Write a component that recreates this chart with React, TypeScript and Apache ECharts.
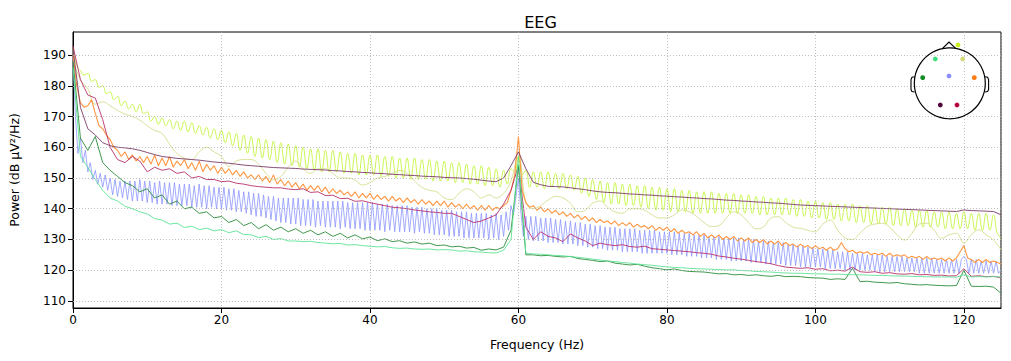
import React, { useEffect, useRef } from "react";
import * as echarts from "echarts";

// Frequency ticks and power ticks
const X_TICKS = [0, 20, 40, 60, 80, 100, 120];
const Y_TICKS = [110, 120, 130, 140, 150, 160, 170, 180, 190];

// Frequency resolution of each hand-read series (Hz between values)
const STEP_1 = 1;
const STEP_HALF = 0.5;
const STEP_THIRD = 1 / 3;

// Lime channel (0.5 Hz spacing, 0..125 Hz)
const limeVals = [
  192, 186.5, 185, 183.5, 184, 181.5, 182, 179.5, 180, 177.5,
  178, 175.5, 176.5, 173.5, 175, 172.5, 174, 171.5, 174, 171,
  171.5, 168.5, 170, 167.5, 169.5, 167, 169, 166, 168.5, 165.5,
  168.5, 165, 168, 164.5, 167, 164, 166.5, 163, 166, 162.5,
  165.5, 161.5, 165, 160.5, 164.5, 159, 164, 158, 163.5, 157,
  163, 156.5, 162.5, 156, 162, 155, 161.5, 154.5, 161, 154,
  160.5, 153.5, 160, 153, 159.5, 152.5, 159.5, 152, 159, 152,
  159, 152, 158.5, 151.5, 158, 151.5, 158, 151, 157.5, 151,
  157.5, 151, 157.5, 150.5, 157, 150.5, 157, 150, 156.5, 150,
  156.5, 149.5, 156.5, 149.5, 156, 149.5, 156, 149, 155.5, 149,
  155.5, 149, 155, 148.5, 155, 148.5, 154.5, 148, 154, 148,
  154, 147.5, 153.5, 147.5, 153, 147, 152.5, 148, 153, 152,
  157, 151, 152.5, 147, 152, 147, 152, 146.5, 152, 147,
  151.5, 146.5, 151.5, 146.5, 151, 146, 150.5, 145, 150, 144,
  149.5, 143, 149, 142, 148.5, 141.5, 148.5, 141.5, 148, 141,
  148, 141, 147.5, 140.5, 147.5, 140, 147, 139.5, 147, 139.5,
  146.5, 139, 146.5, 139, 146, 139, 146, 138.5, 145.5, 138.5,
  145.5, 138.5, 145.5, 138.5, 145, 138.5, 145, 138.5, 145, 138.5,
  144.5, 138.5, 144.5, 138.5, 144, 138, 144, 138, 143.5, 138,
  143.5, 138, 143.5, 138, 143, 137.5, 143, 137.5, 142.5, 137,
  142.5, 137, 142, 136.5, 142, 136.5, 141.5, 136, 141.5, 136,
  141.5, 135.5, 141, 135.5, 141, 135, 140.5, 135, 140.5, 135,
  140.5, 134.5, 140, 134.5, 140, 134.5, 139.5, 134, 139.5, 134,
  139.5, 134, 139, 134, 139, 133.5, 139, 133.5, 138.5, 133.5,
  139, 133.5, 138.5, 133, 138.5, 133, 138.5, 133, 138, 132,
  130.5,
];

// Pale yellow-green channel (1 Hz spacing)
const paleVals = [
  188, 182, 179, 174, 174.8, 173.5, 172, 170.8, 170, 168.8,
  167, 165.5, 164.5, 161, 158, 156.5, 156, 158.5, 160, 158.5,
  157, 153.7, 155.5, 156, 156, 154.5, 151.5, 149.5, 150.5, 153.5,
  155.5, 153, 151.5, 153, 153, 151.5, 150, 150, 149.3, 147.7,
  148.5, 150, 150.5, 151.5, 152.5, 151.5, 149, 147, 146, 145.5,
  143.5, 143, 145, 146.5, 145.5, 143.5, 144.5, 143.5, 145, 149,
  158, 142, 140, 141, 142.8, 144, 143.5, 141.8, 139, 139.5,
  141.8, 142.5, 140.5, 139, 138.5, 140, 140, 139.5, 138, 137,
  137, 138, 139.6, 139, 137.5, 135.5, 134.2, 134.5, 137, 139,
  138, 135.5, 133.5, 134, 137, 137.4, 135.5, 134, 133.6, 133,
  132.5, 135, 136.3, 133, 130.5, 130, 132, 134.2, 135, 135.3,
  134, 131.5, 129.8, 132, 135, 135.3, 133, 130.4, 131.5, 132,
  128.8, 131.5, 133.1, 131.5, 129.8, 126.6,
];

// Blue channel (1/3 Hz spacing)
const blueVals = [
  190, 170, 158, 163, 155, 159, 152, 155, 149.5, 152.5, 148, 151.5, 147, 151, 146,
  150, 144.5, 149.5, 144, 149, 143.5, 149, 143, 149, 142.5, 149, 142.5, 149.5, 142.5, 149,
  142, 149, 142, 148.5, 141.5, 149, 141.5, 148.5, 141.5, 148.5, 141, 148.5, 141, 148, 141,
  148, 141, 148, 140.5, 147.5, 140.5, 148, 140.5, 147.5, 140, 147.5, 140.5, 147, 140, 147,
  140, 147, 139.5, 146.5, 139.5, 146.5, 139, 146, 139, 145.5, 138.5, 145.5, 138, 145, 137.5,
  145, 137.5, 144.5, 137, 144, 136.5, 144, 136, 143.5, 135.5, 143.5, 135.5, 143.5, 135, 143.5,
  135, 143.5, 134.5, 143, 134.5, 143, 134.5, 143, 134, 142.5, 134.5, 142.5, 134, 142.5, 134,
  142.5, 134, 142.5, 133.5, 142.5, 134, 142, 133.5, 142, 133.5, 142, 133.5, 142, 133, 142,
  133, 142, 133, 141.5, 133, 141.5, 132.5, 141.5, 133, 141, 132.5, 141, 132.5, 141, 132.5,
  141, 132.5, 140.5, 132, 140.5, 132.5, 140.5, 132, 140, 132, 140, 131.5, 140, 131.5, 139.5,
  131.5, 139.5, 131, 139.5, 131, 139, 131, 139, 130.5, 139, 130.5, 138.5, 130.5, 138.5, 130.5,
  138.5, 130.5, 138.5, 130, 138, 130.5, 138.5, 130, 138, 131, 139, 133, 141, 138, 144,
  150, 139, 131, 137.5, 130, 137.5, 129.5, 137.5, 129.5, 137, 129.5, 137, 129, 137, 129,
  136.5, 129, 136.5, 128.5, 136, 128.5, 136, 128.5, 135.5, 128, 135.5, 128, 135, 127.5, 135,
  127.5, 134.5, 127, 134.5, 127, 134, 126.5, 134, 126.5, 134, 126.5, 133.5, 126, 133.5, 126,
  133.5, 126, 133.5, 126, 133, 125.5, 133, 125.5, 133, 125.5, 133, 125.5, 132.5, 125.5, 132.5,
  125.5, 132.5, 125, 132.5, 125, 132, 125, 132, 124.5, 132, 124.5, 131.5, 124.5, 131.5, 124,
  131.5, 124, 131, 124, 131, 123.5, 131, 123.5, 130.5, 123.5, 130.5, 123, 130.5, 123, 130.5,
  123, 130, 123, 130, 122.5, 130, 122.5, 129.5, 122.5, 129.5, 122, 129.5, 122, 129, 122,
  129, 122, 129, 121.5, 128.5, 121.5, 128.5, 121.5, 128, 121, 128, 121, 127.5, 121, 127.5,
  121, 127, 121, 127, 120.5, 126.5, 120.5, 126.5, 120.5, 126, 120.5, 126, 120, 126, 120,
  125.5, 120, 125.5, 120, 125.5, 120, 125, 120, 125, 119.5, 125, 119.5, 125, 119.5, 124.5,
  119.5, 124.5, 119.5, 124.5, 119.5, 124.5, 119.5, 124, 119.5, 124, 119.5, 124, 119, 124, 119,
  124, 119, 124, 119, 123.5, 119, 123.5, 119, 123.5, 119, 123.5, 119, 123.5, 119, 123.5,
  124.5, 123.5, 119, 123.5, 119, 123.5, 119, 123, 119, 123, 119, 123, 119, 123, 119,
  120,
];

// Orange channel (0.5 Hz spacing)
const orangeVals = [
  190, 180, 174.5, 173, 173.5, 175.5, 171, 167, 166, 164,
  162.5, 160, 159, 157, 158.5, 156, 157.5, 155.5, 157, 155,
  157, 154.5, 157.5, 154, 156.5, 154, 157, 153.5, 155.5, 154,
  156, 153, 155, 152.5, 155.5, 152, 154.5, 152.5, 154, 151.5,
  153.5, 151.5, 153, 151, 152.5, 150.5, 152, 150, 151, 149.5,
  151, 149, 150.5, 148.5, 151, 148, 149.5, 147.5, 149, 147,
  148.5, 146.5, 148, 146, 147.5, 146, 147.5, 145.5, 147, 145,
  146.5, 145, 146, 144.5, 145.5, 144, 145.5, 143.5, 145, 143.5,
  145, 143, 144.5, 143, 144, 142.5, 144, 142.5, 143.5, 142,
  143.5, 142, 143, 141.5, 143, 141.5, 142.5, 141, 142.5, 141,
  142.5, 140.5, 142, 140.5, 141.5, 140, 141.5, 140, 141, 139.5,
  141, 139.5, 141, 139.5, 140.5, 140, 141, 142, 146, 151,
  163.5, 146, 142, 140.5, 141, 139.5, 140.5, 139, 140, 138.5,
  139.5, 138, 139, 137.5, 138.5, 137, 138, 136.5, 137.5, 136,
  137, 135.5, 136.5, 135.5, 136, 135, 136, 134.5, 135.5, 134.5,
  135.5, 134, 135, 134, 134.5, 133.5, 134.5, 133, 134, 133,
  134, 132.5, 133.5, 132, 133, 132, 132.5, 131.5, 132.5, 131,
  132, 130.5, 131.5, 130.5, 131.5, 130, 131, 130, 131, 129.5,
  130.5, 129.5, 130.5, 129, 130, 129, 130, 128.5, 129.5, 128.5,
  129.5, 128, 129, 128, 128.5, 127.5, 128.5, 127.5, 128, 127,
  128, 127, 127.5, 126.5, 127.5, 126.5, 127, 129, 127, 126,
  126.5, 125.5, 126, 125.5, 126, 125, 125.5, 125, 125.5, 124.5,
  125.5, 124.5, 125, 124.5, 125, 124, 124.5, 124, 124.5, 123.5,
  124.5, 123.5, 124, 123.5, 124, 123, 124, 123, 124, 126,
  128, 124, 123.5, 122.5, 123.5, 122.5, 123.5, 122.5, 123, 122.5,
  122,
];

// Crimson channel (1 Hz spacing)
const crimsonVals = [
  193, 182, 177, 176, 169, 160, 156, 155, 157, 155.5,
  152, 153.5, 152.5, 153, 151.5, 152, 150, 150.5, 149.5, 149.5,
  148.8, 149, 148.3, 148, 147.5, 147.2, 147, 146.8, 146.8, 146.4,
  146.2, 146.5, 145.3, 145.5, 144.3, 144.4, 143.3, 143.4, 142.4, 142.6,
  142, 141.5, 141, 140.5, 140.3, 140, 139.6, 139.3, 139, 138.8,
  138.5, 138.5, 137.5, 136.5, 135.5, 136, 137, 138, 141.5, 146,
  154, 134, 130, 132.5, 131, 130.5, 129.3, 131.8, 130.5, 129.5,
  128, 128.8, 128.3, 128, 128.3, 127.7, 127.5, 127.8, 127, 126.8,
  126.6, 126.4, 126.2, 126, 125.7, 125.5, 125.2, 124.6, 124.3, 123.9,
  123.6, 123.2, 122.8, 122.5, 122.1, 121.5, 121, 120.8, 120.6, 120.8,
  120.3, 120.5, 119.8, 120, 119.7, 121, 119.5, 119.3, 119.5, 119,
  119.2, 118.8, 118.7, 118.9, 118.5, 118.6, 118.3, 118.4, 118.1, 118.2,
  120.5, 118, 118.2, 117.9, 118, 117.5,
];

// Dark green channel (1 Hz spacing)
const darkGreenVals = [
  188, 163, 159, 163.5, 155, 152.5, 150.5, 148.5, 147.5, 145.5,
  146.5, 143.5, 144.5, 141.5, 142.5, 140, 140.5, 138.5, 139, 137,
  137.5, 135.5, 136.5, 134.5, 135.5, 133.5, 134.8, 133, 134, 132.5,
  133.5, 132, 133, 131.5, 132.5, 131, 132, 130.5, 131.5, 130.2,
  130.8, 129.6, 130.2, 129.3, 129.6, 128.8, 129.2, 128.5, 128.8, 128,
  128.2, 127.6, 127.8, 127.2, 127.4, 126.5, 126.9, 126.6, 127.5, 133,
  154, 125, 125, 124.7, 124.8, 124.5, 124.3, 124.5, 123.8, 123.5,
  123.2, 122.8, 123, 122.3, 122, 121.7, 121.9, 121.3, 120.8, 120.5,
  120.1, 120.4, 119.9, 119.6, 119.5, 119.4, 119.1, 118.8, 118.9, 118.5,
  118.6, 118.3, 118.5, 118.2, 118, 118.3, 117.9, 118, 117.9, 117.6,
  117.5, 117.4, 117, 117.2, 117, 120.6, 116.3, 116.4, 116.1, 116,
  115.8, 116, 115.6, 115.4, 115.2, 115.3, 115.1, 115, 114.9, 115,
  120, 114.8, 114.7, 114.8, 114.5, 112.5,
];

// Mint green channel (1 Hz spacing)
const mintVals = [
  186, 157, 153.5, 149.5, 146, 143.5, 142.5, 140.8, 140, 139,
  138.3, 136.8, 136.3, 135, 135.3, 133.9, 134.3, 133.2, 133.7, 132.8,
  133.2, 132.2, 132.8, 131.6, 131.5, 130.6, 131, 130, 130.3, 129.5,
  129.5, 129.3, 129.4, 129, 128.8, 128.6, 128.7, 128.2, 128.3, 128,
  127.8, 127.6, 127.7, 127.3, 127.1, 127.2, 126.9, 126.8, 126.9, 126.6,
  126.7, 126.6, 126.2, 126.3, 126, 125.9, 125.7, 125.6, 126.5, 130,
  157, 125.5, 125.3, 125.2, 125, 124.8, 124.7, 124.4, 124.2, 123.9,
  123.6, 123.3, 123, 122.8, 122.5, 122.3, 122, 121.8, 121.6, 121.3,
  121.1, 120.9, 120.8, 120.6, 120.5, 120.4, 120.3, 120.2, 120.1, 120.1,
  119.9, 119.8, 119.6, 119.5, 119.4, 119.2, 119.1, 119, 119, 118.9,
  118.8, 118.8, 118.7, 118.7, 118.6, 118.5, 118.5, 118.4, 118.3, 118.3,
  118.2, 118.1, 118.1, 118, 117.9, 117.9, 117.8, 117.8, 117.8, 117.7,
  118.5, 117.8, 117.9, 117.8, 117.9, 117.8,
];

// Dark purple channel (1 Hz spacing)
const purpleVals = [
  192, 173, 166, 164, 161.5, 160.5, 160, 159.8, 159.5, 159,
  158.3, 157.6, 157, 156.7, 156.4, 156.2, 156, 155.8, 155.5, 155.2,
  155, 154.8, 154.5, 154.2, 154, 153.8, 153.6, 153.4, 153.3, 153.2,
  153.1, 152.9, 152.8, 152.7, 152.6, 152.4, 152.3, 152.1, 152, 151.8,
  151.7, 151.5, 151.4, 151.2, 151.1, 150.9, 150.8, 150.6, 150.5, 150.4,
  150.2, 150.1, 150, 149.8, 149.6, 149.3, 149, 148.8, 150, 154,
  158.5, 153, 148.6, 147.8, 147.3, 147.2, 147.1, 146.8, 146.5, 146.2,
  145.8, 145.5, 145.3, 145.2, 145, 144.8, 144.7, 144.5, 144.4, 144.2,
  144.1, 143.9, 143.8, 143.6, 143.5, 143.3, 143.2, 143, 142.8, 142.7,
  142.5, 142.4, 142.2, 142.1, 141.9, 141.8, 141.6, 141.4, 141.2, 141.1,
  141, 140.9, 140.8, 140.7, 140.6, 140.5, 140.4, 140.3, 140.2, 140.1,
  140, 139.9, 139.8, 139.7, 139.6, 139.5, 139.4, 139.3, 139.2, 139.1,
  139.6, 139.4, 139.3, 139.2, 139.1, 138,
];

type Ch = { name: string; vals: number[]; step: number; color: string; width: number; smooth: number };

const CHANNELS: Ch[] = [
  { name: "lime", vals: limeVals, step: STEP_HALF, color: "#c4f542", width: 0.9, smooth: 0.45 },
  { name: "pale", vals: paleVals, step: STEP_1, color: "#d5de8c", width: 0.9, smooth: 0.4 },
  { name: "blue", vals: blueVals, step: STEP_THIRD, color: "#8c95ff", width: 0.8, smooth: 0 },
  { name: "orange", vals: orangeVals, step: STEP_HALF, color: "#ff9640", width: 1.1, smooth: 0 },
  { name: "crimson", vals: crimsonVals, step: STEP_1, color: "#b8306a", width: 0.9, smooth: 0 },
  { name: "darkgreen", vals: darkGreenVals, step: STEP_1, color: "#2b8c3a", width: 0.9, smooth: 0 },
  { name: "mint", vals: mintVals, step: STEP_1, color: "#5ee396", width: 0.9, smooth: 0 },
  { name: "purple", vals: purpleVals, step: STEP_1, color: "#7a3a6a", width: 0.9, smooth: 0 },
];

// Sensor dots in the head inset: [x, y, color]
const SENSORS: [number, number, string][] = [
  [958, 45, "#c8f01a"],
  [962.7, 59, "#d3d878"],
  [935.3, 59, "#3de07e"],
  [922.7, 77.7, "#0e8a22"],
  [949, 76, "#8a8cff"],
  [974.3, 77.7, "#ff7a10"],
  [940.3, 105, "#500038"],
  [957, 105, "#b4003c"],
];

const FONT = "DejaVu Sans";

export default function App() {
  const ref = useRef<HTMLDivElement>(null);
  useEffect(() => {
    const chart = echarts.init(ref.current!, null, { renderer: "svg" });
    const gridStyle = { color: "#b0b0b0", type: [1, 2] as number[], width: 0.8 };
    const series: any[] = [
      {
        type: "line",
        name: "grid",
        data: [[0, 150]],
        showSymbol: false,
        silent: true,
        lineStyle: { opacity: 0 },
        z: 1,
        markLine: {
          silent: true,
          animation: false,
          symbol: ["none", "none"],
          label: { show: false },
          lineStyle: gridStyle,
          data: Y_TICKS.map((v) => ({ yAxis: v })),
        },
      },
      ...CHANNELS.map((c) => ({
        type: "line",
        name: c.name,
        data: c.vals.map((v, i) => [i * c.step, v]),
        showSymbol: false,
        symbol: "none",
        silent: true,
        smooth: c.smooth > 0 ? c.smooth : false,
        z: 2,
        lineStyle: { color: c.color, width: c.width },
        itemStyle: { color: c.color },
      })),
    ];
    const graphic: any[] = [
      {
        type: "circle",
        shape: { cx: 949.8, cy: 83.3, r: 35.5 },
        style: { fill: "none", stroke: "#000", lineWidth: 1.2 },
        z: 100,
      },
      {
        type: "polyline",
        shape: { points: [[942.3, 48.6], [949, 42], [955.9, 48.6]] },
        style: { fill: "none", stroke: "#000", lineWidth: 1.2 },
        z: 100,
      },
      {
        type: "polyline",
        shape: { points: [[914.6, 76.8], [912, 77.3], [911, 79.5], [911, 89.5], [912, 91.5], [914.6, 92]] },
        style: { fill: "none", stroke: "#000", lineWidth: 1.1 },
        z: 100,
      },
      {
        type: "polyline",
        shape: { points: [[985, 76.8], [987.6, 77.3], [988.6, 79.5], [988.6, 89.5], [987.6, 91.5], [985, 92]] },
        style: { fill: "none", stroke: "#000", lineWidth: 1.1 },
        z: 100,
      },
      ...SENSORS.map(([x, y, col]) => ({
        type: "circle",
        shape: { cx: x, cy: y, r: 2.4 },
        style: { fill: col, stroke: "none" },
        z: 101,
      })),
    ];
    chart.setOption({
      animation: false,
      backgroundColor: "#ffffff",
      title: {
        text: "EEG",
        left: 535.5,
        top: 9,
        textAlign: "center",
        textStyle: { fontFamily: FONT, fontSize: 16, fontWeight: "normal", color: "#000" },
      },
      grid: {
        left: 70,
        top: 32,
        right: 10,
        bottom: 53,
        show: true,
        borderColor: "#000",
        borderWidth: 1,
        backgroundColor: "transparent",
      },
      xAxis: {
        type: "value",
        min: 0,
        max: 125,
        interval: 20,
        name: "Frequency (Hz)",
        nameLocation: "middle",
        nameGap: 30,
        nameTextStyle: { fontFamily: FONT, fontSize: 12.5, color: "#000" },
        axisLine: { show: true, lineStyle: { color: "#000", width: 1 } },
        axisTick: { show: true, length: 5, lineStyle: { color: "#000" } },
        axisLabel: { fontFamily: FONT, fontSize: 12, color: "#000", margin: 6, showMaxLabel: false },
        splitLine: { show: true, lineStyle: gridStyle },
      },
      yAxis: {
        type: "value",
        min: 107.7,
        max: 197.5,
        name: "Power (dB µV²/Hz)",
        nameLocation: "middle",
        nameGap: 52,
        nameRotate: 90,
        nameTextStyle: { fontFamily: FONT, fontSize: 12.5, color: "#000" },
        axisLine: { show: true, lineStyle: { color: "#000", width: 1 } },
        axisTick: { show: true, length: 5, lineStyle: { color: "#000" }, customValues: Y_TICKS },
        axisLabel: { fontFamily: FONT, fontSize: 12, color: "#000", margin: 7, customValues: Y_TICKS },
        splitLine: { show: false },
      },
      series,
      graphic,
    });
    return () => chart.dispose();
  }, []);
  return (
    <div
      ref={ref}
      style={{ position: "fixed", left: 0, top: 0, width: 1011, height: 361, background: "#fff" }}
    />
  );
}
